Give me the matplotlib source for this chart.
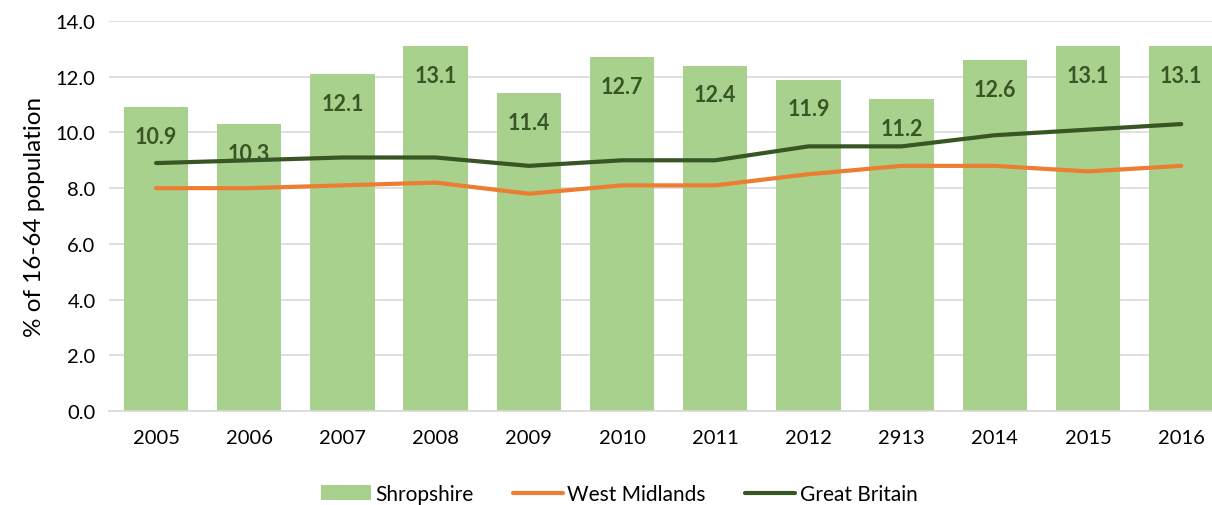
import numpy as np
import matplotlib.pyplot as plt

plt.rcParams['font.family'] = ['Lato', 'DejaVu Sans']

years = ['2005', '2006', '2007', '2008', '2009', '2010', '2011', '2012', '2913', '2014', '2015', '2016']
shropshire = [10.9, 10.3, 12.1, 13.1, 11.4, 12.7, 12.4, 11.9, 11.2, 12.6, 13.1, 13.1]
west_midlands = [8.0, 8.0, 8.1, 8.2, 7.8, 8.1, 8.1, 8.5, 8.8, 8.8, 8.6, 8.8]
great_britain = [8.9, 9.0, 9.1, 9.1, 8.8, 9.0, 9.0, 9.5, 9.5, 9.9, 10.1, 10.3]

bar_col = '#A9D18E'
orange = '#ED7D31'
dkgreen = '#375623'

fig = plt.figure(figsize=(12.12, 5.06), dpi=100)
ax = fig.add_axes([0.0903, 0.1858, 0.9097, 0.7707])

x = np.arange(len(years))
b = ax.bar(x, shropshire, width=0.69, color=bar_col, zorder=2, label='Shropshire')
l1, = ax.plot(x, west_midlands, color=orange, lw=3, solid_capstyle='round', zorder=4, label='West Midlands')
l2, = ax.plot(x, great_britain, color=dkgreen, lw=3, solid_capstyle='round', zorder=4, label='Great Britain')

for xi, v in zip(x, shropshire):
    ax.annotate('%.1f' % v, (xi, v), xytext=(0, -21), textcoords='offset points',
                ha='center', va='center', fontsize=15.5, fontweight='bold', color=dkgreen, zorder=3)

ax.set_ylim(0, 14)
ax.set_xlim(-0.5, 11.33)
ax.set_yticks(np.arange(0, 14.1, 2))
ax.set_yticklabels(['%.1f' % t for t in np.arange(0, 14.1, 2)])
ax.set_xticks(x)
ax.set_xticklabels(years)
ax.tick_params(length=0, labelsize=14.5, colors='#000000')
ax.tick_params(axis='x', pad=13)
ax.tick_params(axis='y', pad=10)
ax.yaxis.grid(True, color='#D9D9D9', lw=1.2, zorder=0)
ax.set_axisbelow(True)
for s in ['top', 'right', 'left']:
    ax.spines[s].set_visible(False)
ax.spines['bottom'].set_color('#D9D9D9')
ax.spines['bottom'].set_linewidth(1.2)
ax.set_ylabel('% of 16-64 population', fontsize=17.5, labelpad=8)

fig.legend([b, l1, l2], ['Shropshire', 'West Midlands', 'Great Britain'],
           loc='lower center', bbox_to_anchor=(0.511, -0.035), ncol=3, frameon=False,
           fontsize=15, handlelength=2.4, handletextpad=0.2, columnspacing=1.9)

fig.savefig('out.png', dpi=100)
